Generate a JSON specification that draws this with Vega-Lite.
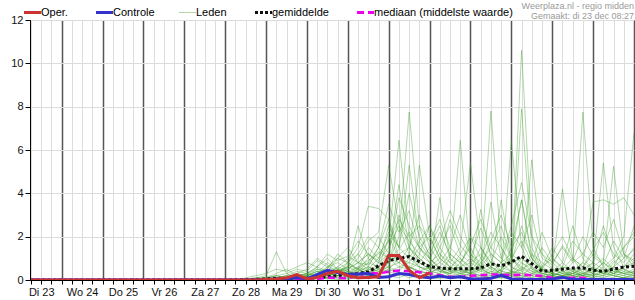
{
"$schema": "https://vega.github.io/schema/vega-lite/v6.json",
"width": 604, "height": 260, "autosize": "none",
"padding": {"left": 30, "top": 20, "right": 1, "bottom": 20},
"background": "white",
"title": {"text": ["Weerplaza.nl - regio midden", "Gemaakt: di 23 dec 08:27"], "anchor": "end", "frame": "group", "fontSize": 9, "fontWeight": "normal", "color": "#9a9a9a", "font": "Liberation Sans", "lineHeight": 10, "offset": 2, "dy": 16},
"config": {"font": "Liberation Sans", "view": {"stroke": "black", "strokeWidth": 1}, "axis": {"labelFont": "Liberation Sans", "labelFontSize": 11, "labelColor": "#111", "domainColor": "black", "tickColor": "black", "gridColor": "#dcdcdc"}, "legend": {"columnPadding": 22, "gridAlign": "none"}},
"datasets": {
"main": [
{"s":"Oper.","h":6,"v":0},{"s":"Oper.","h":138,"v":0},{"s":"Oper.","h":144,"v":0.02},{"s":"Oper.","h":150,"v":0.05},{"s":"Oper.","h":156,"v":0.1},{"s":"Oper.","h":162,"v":0.25},{"s":"Oper.","h":168,"v":0.05},{"s":"Oper.","h":174,"v":0.12},{"s":"Oper.","h":180,"v":0.3},{"s":"Oper.","h":186,"v":0.4},{"s":"Oper.","h":192,"v":0.2},{"s":"Oper.","h":198,"v":0.1},{"s":"Oper.","h":204,"v":0.12},{"s":"Oper.","h":210,"v":0.15},{"s":"Oper.","h":216,"v":1.13},{"s":"Oper.","h":222,"v":1.13},{"s":"Oper.","h":228,"v":0.45},{"s":"Oper.","h":234,"v":0.1},{"s":"Oper.","h":240,"v":0.33},
{"s":"Controle","h":6,"v":0},{"s":"Controle","h":138,"v":0},{"s":"Controle","h":144,"v":0.02},{"s":"Controle","h":150,"v":0.03},{"s":"Controle","h":156,"v":0.05},{"s":"Controle","h":162,"v":0.12},{"s":"Controle","h":168,"v":0.05},{"s":"Controle","h":174,"v":0.25},{"s":"Controle","h":180,"v":0.45},{"s":"Controle","h":186,"v":0.35},{"s":"Controle","h":192,"v":0.25},{"s":"Controle","h":198,"v":0.28},{"s":"Controle","h":204,"v":0.3},{"s":"Controle","h":210,"v":0.12},{"s":"Controle","h":216,"v":0.15},{"s":"Controle","h":222,"v":0.3},{"s":"Controle","h":228,"v":0.25},{"s":"Controle","h":234,"v":0.15},{"s":"Controle","h":240,"v":0.1},{"s":"Controle","h":246,"v":0.18},{"s":"Controle","h":252,"v":0.1},{"s":"Controle","h":258,"v":0.15},{"s":"Controle","h":264,"v":0.05},{"s":"Controle","h":270,"v":0.05},{"s":"Controle","h":276,"v":0.08},{"s":"Controle","h":282,"v":0.22},{"s":"Controle","h":288,"v":0.05},{"s":"Controle","h":294,"v":0.03},{"s":"Controle","h":300,"v":0.02},{"s":"Controle","h":306,"v":0.02},{"s":"Controle","h":312,"v":0.05},{"s":"Controle","h":318,"v":0.12},{"s":"Controle","h":324,"v":0.03},{"s":"Controle","h":330,"v":0.02},{"s":"Controle","h":360,"v":0.02},
{"s":"gemiddelde","h":6,"v":0},{"s":"gemiddelde","h":120,"v":0},{"s":"gemiddelde","h":126,"v":0.01},{"s":"gemiddelde","h":132,"v":0.02},{"s":"gemiddelde","h":138,"v":0.03},{"s":"gemiddelde","h":144,"v":0.05},{"s":"gemiddelde","h":150,"v":0.08},{"s":"gemiddelde","h":156,"v":0.06},{"s":"gemiddelde","h":162,"v":0.1},{"s":"gemiddelde","h":168,"v":0.08},{"s":"gemiddelde","h":174,"v":0.1},{"s":"gemiddelde","h":180,"v":0.15},{"s":"gemiddelde","h":186,"v":0.2},{"s":"gemiddelde","h":192,"v":0.25},{"s":"gemiddelde","h":198,"v":0.3},{"s":"gemiddelde","h":204,"v":0.38},{"s":"gemiddelde","h":210,"v":0.65},{"s":"gemiddelde","h":216,"v":0.9},{"s":"gemiddelde","h":222,"v":1.0},{"s":"gemiddelde","h":228,"v":1.08},{"s":"gemiddelde","h":234,"v":0.85},{"s":"gemiddelde","h":240,"v":0.62},{"s":"gemiddelde","h":246,"v":0.55},{"s":"gemiddelde","h":252,"v":0.52},{"s":"gemiddelde","h":258,"v":0.52},{"s":"gemiddelde","h":264,"v":0.52},{"s":"gemiddelde","h":270,"v":0.56},{"s":"gemiddelde","h":276,"v":0.75},{"s":"gemiddelde","h":282,"v":0.65},{"s":"gemiddelde","h":288,"v":0.82},{"s":"gemiddelde","h":294,"v":1.1},{"s":"gemiddelde","h":300,"v":0.75},{"s":"gemiddelde","h":306,"v":0.4},{"s":"gemiddelde","h":312,"v":0.45},{"s":"gemiddelde","h":318,"v":0.5},{"s":"gemiddelde","h":324,"v":0.55},{"s":"gemiddelde","h":330,"v":0.56},{"s":"gemiddelde","h":336,"v":0.45},{"s":"gemiddelde","h":342,"v":0.4},{"s":"gemiddelde","h":348,"v":0.5},{"s":"gemiddelde","h":354,"v":0.6},{"s":"gemiddelde","h":360,"v":0.63},
{"s":"mediaan (middelste waarde)","h":6,"v":0},{"s":"mediaan (middelste waarde)","h":168,"v":0},{"s":"mediaan (middelste waarde)","h":174,"v":0.05},{"s":"mediaan (middelste waarde)","h":180,"v":0.1},{"s":"mediaan (middelste waarde)","h":186,"v":0.1},{"s":"mediaan (middelste waarde)","h":192,"v":0.08},{"s":"mediaan (middelste waarde)","h":198,"v":0.2},{"s":"mediaan (middelste waarde)","h":204,"v":0.33},{"s":"mediaan (middelste waarde)","h":210,"v":0.3},{"s":"mediaan (middelste waarde)","h":216,"v":0.38},{"s":"mediaan (middelste waarde)","h":222,"v":0.44},{"s":"mediaan (middelste waarde)","h":228,"v":0.4},{"s":"mediaan (middelste waarde)","h":234,"v":0.36},{"s":"mediaan (middelste waarde)","h":240,"v":0.3},{"s":"mediaan (middelste waarde)","h":246,"v":0.22},{"s":"mediaan (middelste waarde)","h":252,"v":0.15},{"s":"mediaan (middelste waarde)","h":258,"v":0.15},{"s":"mediaan (middelste waarde)","h":264,"v":0.2},{"s":"mediaan (middelste waarde)","h":270,"v":0.22},{"s":"mediaan (middelste waarde)","h":276,"v":0.25},{"s":"mediaan (middelste waarde)","h":282,"v":0.25},{"s":"mediaan (middelste waarde)","h":288,"v":0.22},{"s":"mediaan (middelste waarde)","h":294,"v":0.25},{"s":"mediaan (middelste waarde)","h":300,"v":0.22},{"s":"mediaan (middelste waarde)","h":306,"v":0.18},{"s":"mediaan (middelste waarde)","h":312,"v":0.1},{"s":"mediaan (middelste waarde)","h":318,"v":0.1},{"s":"mediaan (middelste waarde)","h":324,"v":0.1},{"s":"mediaan (middelste waarde)","h":330,"v":0.1},{"s":"mediaan (middelste waarde)","h":336,"v":0.02},{"s":"mediaan (middelste waarde)","h":342,"v":0},{"s":"mediaan (middelste waarde)","h":360,"v":0}
],
"mem": [
{"m":1,"h":6,"v":0},{"m":1,"h":132,"v":0},{"m":1,"h":138,"v":0.1},{"m":1,"h":144,"v":0.2},{"m":1,"h":150,"v":1.3},{"m":1,"h":156,"v":0.3},{"m":1,"h":162,"v":0.1},{"m":1,"h":168,"v":0.2},{"m":1,"h":174,"v":0.4},{"m":1,"h":180,"v":0.3},{"m":1,"h":186,"v":0.5},{"m":1,"h":192,"v":0.8},{"m":1,"h":198,"v":1.2},{"m":1,"h":204,"v":0.6},{"m":1,"h":210,"v":0.4},{"m":1,"h":216,"v":0.8},{"m":1,"h":222,"v":2},{"m":1,"h":228,"v":7.75},{"m":1,"h":234,"v":2.5},{"m":1,"h":240,"v":1},{"m":1,"h":246,"v":0.5},{"m":1,"h":252,"v":0.3},{"m":1,"h":258,"v":0.8},{"m":1,"h":264,"v":1.5},{"m":1,"h":270,"v":0.6},{"m":1,"h":276,"v":0.2},{"m":1,"h":282,"v":0.1},{"m":1,"h":288,"v":0.3},{"m":1,"h":294,"v":0.8},{"m":1,"h":300,"v":0.4},{"m":1,"h":306,"v":0.2},{"m":1,"h":312,"v":0.1},{"m":1,"h":318,"v":0.5},{"m":1,"h":324,"v":1},{"m":1,"h":330,"v":0.6},{"m":1,"h":336,"v":0.3},{"m":1,"h":342,"v":0.2},{"m":1,"h":348,"v":0.8},{"m":1,"h":354,"v":1.2},{"m":1,"h":360,"v":0.9},
{"m":2,"h":6,"v":0},{"m":2,"h":126,"v":0},{"m":2,"h":132,"v":0.05},{"m":2,"h":138,"v":0.1},{"m":2,"h":144,"v":0.1},{"m":2,"h":150,"v":0.2},{"m":2,"h":156,"v":0.3},{"m":2,"h":162,"v":0.5},{"m":2,"h":168,"v":0.4},{"m":2,"h":174,"v":0.9},{"m":2,"h":180,"v":0.6},{"m":2,"h":186,"v":1},{"m":2,"h":192,"v":0.8},{"m":2,"h":198,"v":1.5},{"m":2,"h":204,"v":3.4},{"m":2,"h":210,"v":3.3},{"m":2,"h":216,"v":2.8},{"m":2,"h":222,"v":1},{"m":2,"h":228,"v":0.6},{"m":2,"h":234,"v":0.4},{"m":2,"h":240,"v":0.3},{"m":2,"h":246,"v":0.6},{"m":2,"h":252,"v":1.2},{"m":2,"h":258,"v":0.8},{"m":2,"h":264,"v":0.4},{"m":2,"h":270,"v":0.2},{"m":2,"h":276,"v":0.1},{"m":2,"h":282,"v":0.5},{"m":2,"h":288,"v":1.1},{"m":2,"h":294,"v":3.7},{"m":2,"h":300,"v":1.2},{"m":2,"h":306,"v":0.5},{"m":2,"h":312,"v":0.3},{"m":2,"h":318,"v":0.2},{"m":2,"h":324,"v":0.1},{"m":2,"h":330,"v":0.3},{"m":2,"h":336,"v":0.6},{"m":2,"h":342,"v":0.4},{"m":2,"h":348,"v":0.2},{"m":2,"h":354,"v":0.1},{"m":2,"h":360,"v":0.3},
{"m":3,"h":6,"v":0},{"m":3,"h":138,"v":0},{"m":3,"h":144,"v":0.05},{"m":3,"h":150,"v":0.1},{"m":3,"h":156,"v":0.2},{"m":3,"h":162,"v":0.1},{"m":3,"h":168,"v":0.3},{"m":3,"h":174,"v":0.2},{"m":3,"h":180,"v":0.6},{"m":3,"h":186,"v":0.8},{"m":3,"h":192,"v":0.5},{"m":3,"h":198,"v":1},{"m":3,"h":204,"v":1.8},{"m":3,"h":210,"v":2.2},{"m":3,"h":216,"v":5.3},{"m":3,"h":222,"v":2.5},{"m":3,"h":228,"v":1.2},{"m":3,"h":234,"v":0.6},{"m":3,"h":240,"v":0.4},{"m":3,"h":246,"v":0.3},{"m":3,"h":252,"v":1},{"m":3,"h":258,"v":6.45},{"m":3,"h":264,"v":1},{"m":3,"h":270,"v":0.5},{"m":3,"h":276,"v":0.3},{"m":3,"h":282,"v":0.2},{"m":3,"h":288,"v":0.4},{"m":3,"h":294,"v":1},{"m":3,"h":300,"v":0.6},{"m":3,"h":306,"v":0.2},{"m":3,"h":312,"v":0.1},{"m":3,"h":318,"v":0.1},{"m":3,"h":324,"v":0.4},{"m":3,"h":330,"v":0.8},{"m":3,"h":336,"v":0.5},{"m":3,"h":342,"v":0.3},{"m":3,"h":348,"v":0.6},{"m":3,"h":354,"v":1},{"m":3,"h":360,"v":2.5},
{"m":4,"h":6,"v":0},{"m":4,"h":132,"v":0},{"m":4,"h":138,"v":0.05},{"m":4,"h":144,"v":0.1},{"m":4,"h":150,"v":0.3},{"m":4,"h":156,"v":0.5},{"m":4,"h":162,"v":0.2},{"m":4,"h":168,"v":0.1},{"m":4,"h":174,"v":0.3},{"m":4,"h":180,"v":0.8},{"m":4,"h":186,"v":0.5},{"m":4,"h":192,"v":0.4},{"m":4,"h":198,"v":0.6},{"m":4,"h":204,"v":0.9},{"m":4,"h":210,"v":1.2},{"m":4,"h":216,"v":1.8},{"m":4,"h":222,"v":6.45},{"m":4,"h":228,"v":2},{"m":4,"h":234,"v":0.8},{"m":4,"h":240,"v":0.5},{"m":4,"h":246,"v":3.8},{"m":4,"h":252,"v":1},{"m":4,"h":258,"v":0.5},{"m":4,"h":264,"v":0.3},{"m":4,"h":270,"v":0.6},{"m":4,"h":276,"v":1.2},{"m":4,"h":282,"v":0.8},{"m":4,"h":288,"v":0.4},{"m":4,"h":294,"v":0.3},{"m":4,"h":300,"v":0.2},{"m":4,"h":306,"v":0.6},{"m":4,"h":312,"v":1},{"m":4,"h":318,"v":0.5},{"m":4,"h":324,"v":0.3},{"m":4,"h":330,"v":0.2},{"m":4,"h":336,"v":0.1},{"m":4,"h":342,"v":0.4},{"m":4,"h":348,"v":0.9},{"m":4,"h":354,"v":0.5},{"m":4,"h":360,"v":0.3},
{"m":5,"h":6,"v":0},{"m":5,"h":144,"v":0},{"m":5,"h":150,"v":0.1},{"m":5,"h":156,"v":0.1},{"m":5,"h":162,"v":0.3},{"m":5,"h":168,"v":0.5},{"m":5,"h":174,"v":1},{"m":5,"h":180,"v":0.7},{"m":5,"h":186,"v":0.4},{"m":5,"h":192,"v":0.6},{"m":5,"h":198,"v":2.5},{"m":5,"h":204,"v":1},{"m":5,"h":210,"v":0.5},{"m":5,"h":216,"v":0.8},{"m":5,"h":222,"v":1.2},{"m":5,"h":228,"v":1.5},{"m":5,"h":234,"v":3},{"m":5,"h":240,"v":1.5},{"m":5,"h":246,"v":0.8},{"m":5,"h":252,"v":0.5},{"m":5,"h":258,"v":0.3},{"m":5,"h":264,"v":0.2},{"m":5,"h":270,"v":0.5},{"m":5,"h":276,"v":7.8},{"m":5,"h":282,"v":1.5},{"m":5,"h":288,"v":0.6},{"m":5,"h":294,"v":0.3},{"m":5,"h":300,"v":0.2},{"m":5,"h":306,"v":0.1},{"m":5,"h":312,"v":0.3},{"m":5,"h":318,"v":0.6},{"m":5,"h":324,"v":0.5},{"m":5,"h":330,"v":0.2},{"m":5,"h":336,"v":0.4},{"m":5,"h":342,"v":0.8},{"m":5,"h":348,"v":0.5},{"m":5,"h":354,"v":0.3},{"m":5,"h":360,"v":0.5},
{"m":6,"h":6,"v":0},{"m":6,"h":138,"v":0},{"m":6,"h":144,"v":0.05},{"m":6,"h":150,"v":0.2},{"m":6,"h":156,"v":0.1},{"m":6,"h":162,"v":0.05},{"m":6,"h":168,"v":0.2},{"m":6,"h":174,"v":0.5},{"m":6,"h":180,"v":0.4},{"m":6,"h":186,"v":0.3},{"m":6,"h":192,"v":0.7},{"m":6,"h":198,"v":0.5},{"m":6,"h":204,"v":1.5},{"m":6,"h":210,"v":1},{"m":6,"h":216,"v":2.2},{"m":6,"h":222,"v":1.5},{"m":6,"h":228,"v":1},{"m":6,"h":234,"v":1.8},{"m":6,"h":240,"v":2.5},{"m":6,"h":246,"v":1.2},{"m":6,"h":252,"v":0.8},{"m":6,"h":258,"v":1.5},{"m":6,"h":264,"v":5.4},{"m":6,"h":270,"v":1.5},{"m":6,"h":276,"v":0.6},{"m":6,"h":282,"v":0.3},{"m":6,"h":288,"v":6.4},{"m":6,"h":294,"v":1.5},{"m":6,"h":300,"v":0.5},{"m":6,"h":306,"v":0.3},{"m":6,"h":312,"v":0.2},{"m":6,"h":318,"v":0.1},{"m":6,"h":324,"v":0.3},{"m":6,"h":330,"v":0.5},{"m":6,"h":336,"v":0.3},{"m":6,"h":342,"v":0.2},{"m":6,"h":348,"v":0.1},{"m":6,"h":354,"v":0.4},{"m":6,"h":360,"v":0.8},
{"m":7,"h":6,"v":0},{"m":7,"h":126,"v":0},{"m":7,"h":132,"v":0.1},{"m":7,"h":138,"v":0.2},{"m":7,"h":144,"v":0.3},{"m":7,"h":150,"v":0.5},{"m":7,"h":156,"v":0.4},{"m":7,"h":162,"v":0.6},{"m":7,"h":168,"v":0.8},{"m":7,"h":174,"v":0.6},{"m":7,"h":180,"v":1.2},{"m":7,"h":186,"v":0.9},{"m":7,"h":192,"v":1.1},{"m":7,"h":198,"v":0.8},{"m":7,"h":204,"v":0.7},{"m":7,"h":210,"v":1.3},{"m":7,"h":216,"v":1},{"m":7,"h":222,"v":1.4},{"m":7,"h":228,"v":2.2},{"m":7,"h":234,"v":1.5},{"m":7,"h":240,"v":0.8},{"m":7,"h":246,"v":0.4},{"m":7,"h":252,"v":0.6},{"m":7,"h":258,"v":1},{"m":7,"h":264,"v":0.5},{"m":7,"h":270,"v":3.25},{"m":7,"h":276,"v":1},{"m":7,"h":282,"v":0.4},{"m":7,"h":288,"v":0.3},{"m":7,"h":294,"v":10.6},{"m":7,"h":300,"v":2},{"m":7,"h":306,"v":0.6},{"m":7,"h":312,"v":0.3},{"m":7,"h":318,"v":0.2},{"m":7,"h":324,"v":0.1},{"m":7,"h":330,"v":0.2},{"m":7,"h":336,"v":0.5},{"m":7,"h":342,"v":0.3},{"m":7,"h":348,"v":0.2},{"m":7,"h":354,"v":0.1},{"m":7,"h":360,"v":0.2},
{"m":8,"h":6,"v":0},{"m":8,"h":144,"v":0},{"m":8,"h":150,"v":0.05},{"m":8,"h":156,"v":0.1},{"m":8,"h":162,"v":0.2},{"m":8,"h":168,"v":0.1},{"m":8,"h":174,"v":0.2},{"m":8,"h":180,"v":0.3},{"m":8,"h":186,"v":0.2},{"m":8,"h":192,"v":0.3},{"m":8,"h":198,"v":0.5},{"m":8,"h":204,"v":0.8},{"m":8,"h":210,"v":0.6},{"m":8,"h":216,"v":1.2},{"m":8,"h":222,"v":4.4},{"m":8,"h":228,"v":1.5},{"m":8,"h":234,"v":1},{"m":8,"h":240,"v":0.6},{"m":8,"h":246,"v":1.5},{"m":8,"h":252,"v":2.5},{"m":8,"h":258,"v":1.2},{"m":8,"h":264,"v":0.8},{"m":8,"h":270,"v":0.5},{"m":8,"h":276,"v":3.6},{"m":8,"h":282,"v":1},{"m":8,"h":288,"v":0.6},{"m":8,"h":294,"v":0.4},{"m":8,"h":300,"v":5.55},{"m":8,"h":306,"v":1.2},{"m":8,"h":312,"v":0.5},{"m":8,"h":318,"v":0.3},{"m":8,"h":324,"v":0.2},{"m":8,"h":330,"v":0.4},{"m":8,"h":336,"v":0.8},{"m":8,"h":342,"v":0.5},{"m":8,"h":348,"v":0.3},{"m":8,"h":354,"v":0.2},{"m":8,"h":360,"v":0.1},
{"m":9,"h":6,"v":0},{"m":9,"h":150,"v":0},{"m":9,"h":156,"v":0.1},{"m":9,"h":162,"v":0.2},{"m":9,"h":168,"v":0.3},{"m":9,"h":174,"v":0.1},{"m":9,"h":180,"v":0.2},{"m":9,"h":186,"v":0.5},{"m":9,"h":192,"v":0.3},{"m":9,"h":198,"v":0.4},{"m":9,"h":204,"v":0.6},{"m":9,"h":210,"v":1.5},{"m":9,"h":216,"v":2.8},{"m":9,"h":222,"v":1.5},{"m":9,"h":228,"v":5.3},{"m":9,"h":234,"v":1.8},{"m":9,"h":240,"v":1},{"m":9,"h":246,"v":0.5},{"m":9,"h":252,"v":0.2},{"m":9,"h":258,"v":0.1},{"m":9,"h":264,"v":0.3},{"m":9,"h":270,"v":0.8},{"m":9,"h":276,"v":0.5},{"m":9,"h":282,"v":3.7},{"m":9,"h":288,"v":1},{"m":9,"h":294,"v":0.4},{"m":9,"h":300,"v":0.2},{"m":9,"h":306,"v":0.1},{"m":9,"h":312,"v":0.6},{"m":9,"h":318,"v":4.2},{"m":9,"h":324,"v":1},{"m":9,"h":330,"v":0.3},{"m":9,"h":336,"v":0.2},{"m":9,"h":342,"v":0.5},{"m":9,"h":348,"v":0.3},{"m":9,"h":354,"v":0.6},{"m":9,"h":360,"v":1.2},
{"m":10,"h":6,"v":0},{"m":10,"h":138,"v":0},{"m":10,"h":144,"v":0.05},{"m":10,"h":150,"v":0.1},{"m":10,"h":156,"v":0.05},{"m":10,"h":162,"v":0.1},{"m":10,"h":168,"v":0.2},{"m":10,"h":174,"v":0.4},{"m":10,"h":180,"v":0.2},{"m":10,"h":186,"v":0.1},{"m":10,"h":192,"v":0.2},{"m":10,"h":198,"v":0.3},{"m":10,"h":204,"v":0.5},{"m":10,"h":210,"v":0.4},{"m":10,"h":216,"v":0.6},{"m":10,"h":222,"v":0.8},{"m":10,"h":228,"v":1.2},{"m":10,"h":234,"v":5.3},{"m":10,"h":240,"v":2},{"m":10,"h":246,"v":1},{"m":10,"h":252,"v":0.6},{"m":10,"h":258,"v":0.4},{"m":10,"h":264,"v":0.3},{"m":10,"h":270,"v":0.2},{"m":10,"h":276,"v":0.6},{"m":10,"h":282,"v":0.4},{"m":10,"h":288,"v":0.3},{"m":10,"h":294,"v":7.9},{"m":10,"h":300,"v":1.5},{"m":10,"h":306,"v":0.5},{"m":10,"h":312,"v":0.3},{"m":10,"h":318,"v":0.2},{"m":10,"h":324,"v":0.4},{"m":10,"h":330,"v":0.8},{"m":10,"h":336,"v":3.6},{"m":10,"h":342,"v":3.7},{"m":10,"h":348,"v":3.5},{"m":10,"h":354,"v":3.8},{"m":10,"h":360,"v":3},
{"m":11,"h":6,"v":0},{"m":11,"h":144,"v":0},{"m":11,"h":150,"v":0.05},{"m":11,"h":156,"v":0.1},{"m":11,"h":162,"v":0.1},{"m":11,"h":168,"v":0.1},{"m":11,"h":174,"v":0.2},{"m":11,"h":180,"v":0.5},{"m":11,"h":186,"v":1.2},{"m":11,"h":192,"v":0.8},{"m":11,"h":198,"v":0.5},{"m":11,"h":204,"v":0.3},{"m":11,"h":210,"v":0.6},{"m":11,"h":216,"v":1},{"m":11,"h":222,"v":0.8},{"m":11,"h":228,"v":0.5},{"m":11,"h":234,"v":1.2},{"m":11,"h":240,"v":2.5},{"m":11,"h":246,"v":1.5},{"m":11,"h":252,"v":0.8},{"m":11,"h":258,"v":0.5},{"m":11,"h":264,"v":0.4},{"m":11,"h":270,"v":1},{"m":11,"h":276,"v":2.2},{"m":11,"h":282,"v":1.5},{"m":11,"h":288,"v":0.8},{"m":11,"h":294,"v":2.5},{"m":11,"h":300,"v":1},{"m":11,"h":306,"v":0.5},{"m":11,"h":312,"v":0.2},{"m":11,"h":318,"v":0.3},{"m":11,"h":324,"v":0.8},{"m":11,"h":330,"v":7.75},{"m":11,"h":336,"v":1.5},{"m":11,"h":342,"v":0.6},{"m":11,"h":348,"v":0.3},{"m":11,"h":354,"v":0.2},{"m":11,"h":360,"v":0.4},
{"m":12,"h":6,"v":0},{"m":12,"h":138,"v":0},{"m":12,"h":144,"v":0.1},{"m":12,"h":150,"v":0.2},{"m":12,"h":156,"v":0.1},{"m":12,"h":162,"v":0.05},{"m":12,"h":168,"v":0.1},{"m":12,"h":174,"v":0.3},{"m":12,"h":180,"v":0.6},{"m":12,"h":186,"v":0.4},{"m":12,"h":192,"v":0.5},{"m":12,"h":198,"v":0.8},{"m":12,"h":204,"v":1.2},{"m":12,"h":210,"v":0.9},{"m":12,"h":216,"v":1.5},{"m":12,"h":222,"v":2.5},{"m":12,"h":228,"v":1.8},{"m":12,"h":234,"v":1.2},{"m":12,"h":240,"v":0.8},{"m":12,"h":246,"v":1.2},{"m":12,"h":252,"v":0.6},{"m":12,"h":258,"v":0.3},{"m":12,"h":264,"v":0.5},{"m":12,"h":270,"v":0.3},{"m":12,"h":276,"v":0.2},{"m":12,"h":282,"v":0.5},{"m":12,"h":288,"v":1},{"m":12,"h":294,"v":0.6},{"m":12,"h":300,"v":0.4},{"m":12,"h":306,"v":0.3},{"m":12,"h":312,"v":0.2},{"m":12,"h":318,"v":0.1},{"m":12,"h":324,"v":0.3},{"m":12,"h":330,"v":0.5},{"m":12,"h":336,"v":0.8},{"m":12,"h":342,"v":5.4},{"m":12,"h":348,"v":1.5},{"m":12,"h":354,"v":0.6},{"m":12,"h":360,"v":0.8},
{"m":13,"h":6,"v":0},{"m":13,"h":150,"v":0},{"m":13,"h":156,"v":0.05},{"m":13,"h":162,"v":0.1},{"m":13,"h":168,"v":0.2},{"m":13,"h":174,"v":0.3},{"m":13,"h":180,"v":0.2},{"m":13,"h":186,"v":0.4},{"m":13,"h":192,"v":0.6},{"m":13,"h":198,"v":0.4},{"m":13,"h":204,"v":0.8},{"m":13,"h":210,"v":1.5},{"m":13,"h":216,"v":1},{"m":13,"h":222,"v":0.6},{"m":13,"h":228,"v":0.5},{"m":13,"h":234,"v":0.8},{"m":13,"h":240,"v":1.5},{"m":13,"h":246,"v":2.5},{"m":13,"h":252,"v":1},{"m":13,"h":258,"v":0.6},{"m":13,"h":264,"v":2},{"m":13,"h":270,"v":1.5},{"m":13,"h":276,"v":0.8},{"m":13,"h":282,"v":0.6},{"m":13,"h":288,"v":0.4},{"m":13,"h":294,"v":0.3},{"m":13,"h":300,"v":1.2},{"m":13,"h":306,"v":0.8},{"m":13,"h":312,"v":0.5},{"m":13,"h":318,"v":0.3},{"m":13,"h":324,"v":0.2},{"m":13,"h":330,"v":0.1},{"m":13,"h":336,"v":0.3},{"m":13,"h":342,"v":0.8},{"m":13,"h":348,"v":5.25},{"m":13,"h":354,"v":1.2},{"m":13,"h":360,"v":0.6},
{"m":14,"h":6,"v":0},{"m":14,"h":138,"v":0},{"m":14,"h":144,"v":0.05},{"m":14,"h":150,"v":0.1},{"m":14,"h":156,"v":0.2},{"m":14,"h":162,"v":0.4},{"m":14,"h":168,"v":0.3},{"m":14,"h":174,"v":0.6},{"m":14,"h":180,"v":1},{"m":14,"h":186,"v":0.5},{"m":14,"h":192,"v":0.3},{"m":14,"h":198,"v":0.6},{"m":14,"h":204,"v":0.4},{"m":14,"h":210,"v":0.2},{"m":14,"h":216,"v":0.5},{"m":14,"h":222,"v":1},{"m":14,"h":228,"v":0.8},{"m":14,"h":234,"v":0.6},{"m":14,"h":240,"v":0.4},{"m":14,"h":246,"v":0.3},{"m":14,"h":252,"v":0.5},{"m":14,"h":258,"v":1.2},{"m":14,"h":264,"v":2},{"m":14,"h":270,"v":1},{"m":14,"h":276,"v":0.5},{"m":14,"h":282,"v":0.3},{"m":14,"h":288,"v":1.5},{"m":14,"h":294,"v":3.7},{"m":14,"h":300,"v":1},{"m":14,"h":306,"v":0.4},{"m":14,"h":312,"v":0.3},{"m":14,"h":318,"v":0.6},{"m":14,"h":324,"v":0.4},{"m":14,"h":330,"v":0.2},{"m":14,"h":336,"v":0.3},{"m":14,"h":342,"v":0.6},{"m":14,"h":348,"v":1},{"m":14,"h":354,"v":2},{"m":14,"h":360,"v":6.8},
{"m":15,"h":6,"v":0},{"m":15,"h":144,"v":0},{"m":15,"h":150,"v":0.1},{"m":15,"h":156,"v":0.2},{"m":15,"h":162,"v":0.1},{"m":15,"h":168,"v":0.05},{"m":15,"h":174,"v":0.1},{"m":15,"h":180,"v":0.2},{"m":15,"h":186,"v":0.3},{"m":15,"h":192,"v":0.2},{"m":15,"h":198,"v":0.5},{"m":15,"h":204,"v":0.3},{"m":15,"h":210,"v":0.8},{"m":15,"h":216,"v":0.6},{"m":15,"h":222,"v":0.4},{"m":15,"h":228,"v":1},{"m":15,"h":234,"v":0.6},{"m":15,"h":240,"v":0.5},{"m":15,"h":246,"v":0.8},{"m":15,"h":252,"v":1.5},{"m":15,"h":258,"v":1},{"m":15,"h":264,"v":0.6},{"m":15,"h":270,"v":0.4},{"m":15,"h":276,"v":0.3},{"m":15,"h":282,"v":0.8},{"m":15,"h":288,"v":1.2},{"m":15,"h":294,"v":0.8},{"m":15,"h":300,"v":0.5},{"m":15,"h":306,"v":0.3},{"m":15,"h":312,"v":0.4},{"m":15,"h":318,"v":0.8},{"m":15,"h":324,"v":2.5},{"m":15,"h":330,"v":1},{"m":15,"h":336,"v":0.5},{"m":15,"h":342,"v":0.3},{"m":15,"h":348,"v":0.6},{"m":15,"h":354,"v":1.5},{"m":15,"h":360,"v":2},
{"m":16,"h":6,"v":0},{"m":16,"h":156,"v":0},{"m":16,"h":162,"v":0.05},{"m":16,"h":168,"v":0.1},{"m":16,"h":174,"v":0.2},{"m":16,"h":180,"v":0.1},{"m":16,"h":186,"v":0.2},{"m":16,"h":192,"v":0.4},{"m":16,"h":198,"v":0.2},{"m":16,"h":204,"v":0.5},{"m":16,"h":210,"v":0.3},{"m":16,"h":216,"v":0.8},{"m":16,"h":222,"v":1.2},{"m":16,"h":228,"v":0.6},{"m":16,"h":234,"v":0.4},{"m":16,"h":240,"v":0.3},{"m":16,"h":246,"v":0.6},{"m":16,"h":252,"v":0.4},{"m":16,"h":258,"v":0.2},{"m":16,"h":264,"v":0.5},{"m":16,"h":270,"v":1.5},{"m":16,"h":276,"v":0.8},{"m":16,"h":282,"v":0.4},{"m":16,"h":288,"v":0.8},{"m":16,"h":294,"v":1},{"m":16,"h":300,"v":0.6},{"m":16,"h":306,"v":0.3},{"m":16,"h":312,"v":0.2},{"m":16,"h":318,"v":0.4},{"m":16,"h":324,"v":0.3},{"m":16,"h":330,"v":0.2},{"m":16,"h":336,"v":0.6},{"m":16,"h":342,"v":1},{"m":16,"h":348,"v":0.5},{"m":16,"h":354,"v":0.3},{"m":16,"h":360,"v":0.4},
{"m":17,"h":6,"v":0},{"m":17,"h":144,"v":0},{"m":17,"h":150,"v":0.05},{"m":17,"h":156,"v":0.1},{"m":17,"h":162,"v":0.2},{"m":17,"h":168,"v":0.3},{"m":17,"h":174,"v":0.5},{"m":17,"h":180,"v":0.3},{"m":17,"h":186,"v":0.2},{"m":17,"h":192,"v":0.4},{"m":17,"h":198,"v":0.3},{"m":17,"h":204,"v":0.2},{"m":17,"h":210,"v":0.4},{"m":17,"h":216,"v":0.6},{"m":17,"h":222,"v":3},{"m":17,"h":228,"v":1.5},{"m":17,"h":234,"v":0.8},{"m":17,"h":240,"v":0.5},{"m":17,"h":246,"v":0.4},{"m":17,"h":252,"v":0.3},{"m":17,"h":258,"v":0.6},{"m":17,"h":264,"v":1},{"m":17,"h":270,"v":0.6},{"m":17,"h":276,"v":0.4},{"m":17,"h":282,"v":0.2},{"m":17,"h":288,"v":0.3},{"m":17,"h":294,"v":0.5},{"m":17,"h":300,"v":0.8},{"m":17,"h":306,"v":0.5},{"m":17,"h":312,"v":0.3},{"m":17,"h":318,"v":0.2},{"m":17,"h":324,"v":0.5},{"m":17,"h":330,"v":0.3},{"m":17,"h":336,"v":0.2},{"m":17,"h":342,"v":0.4},{"m":17,"h":348,"v":0.3},{"m":17,"h":354,"v":0.5},{"m":17,"h":360,"v":0.3},
{"m":18,"h":6,"v":0},{"m":18,"h":150,"v":0},{"m":18,"h":156,"v":0.05},{"m":18,"h":162,"v":0.05},{"m":18,"h":168,"v":0.1},{"m":18,"h":174,"v":0.15},{"m":18,"h":180,"v":0.3},{"m":18,"h":186,"v":0.2},{"m":18,"h":192,"v":0.2},{"m":18,"h":198,"v":0.4},{"m":18,"h":204,"v":0.6},{"m":18,"h":210,"v":0.5},{"m":18,"h":216,"v":0.4},{"m":18,"h":222,"v":0.6},{"m":18,"h":228,"v":0.8},{"m":18,"h":234,"v":1.5},{"m":18,"h":240,"v":1},{"m":18,"h":246,"v":0.6},{"m":18,"h":252,"v":0.4},{"m":18,"h":258,"v":0.3},{"m":18,"h":264,"v":0.6},{"m":18,"h":270,"v":0.4},{"m":18,"h":276,"v":0.8},{"m":18,"h":282,"v":2},{"m":18,"h":288,"v":1},{"m":18,"h":294,"v":0.5},{"m":18,"h":300,"v":0.3},{"m":18,"h":306,"v":0.2},{"m":18,"h":312,"v":0.1},{"m":18,"h":318,"v":0.2},{"m":18,"h":324,"v":0.3},{"m":18,"h":330,"v":0.6},{"m":18,"h":336,"v":1.2},{"m":18,"h":342,"v":0.8},{"m":18,"h":348,"v":0.4},{"m":18,"h":354,"v":0.3},{"m":18,"h":360,"v":0.2},
{"m":19,"h":6,"v":0},{"m":19,"h":144,"v":0},{"m":19,"h":150,"v":0.05},{"m":19,"h":156,"v":0},{"m":19,"h":162,"v":0.1},{"m":19,"h":168,"v":0.2},{"m":19,"h":174,"v":0.1},{"m":19,"h":180,"v":0.3},{"m":19,"h":186,"v":0.6},{"m":19,"h":192,"v":0.4},{"m":19,"h":198,"v":0.2},{"m":19,"h":204,"v":0.3},{"m":19,"h":210,"v":0.5},{"m":19,"h":216,"v":2},{"m":19,"h":222,"v":1},{"m":19,"h":228,"v":0.6},{"m":19,"h":234,"v":0.4},{"m":19,"h":240,"v":0.3},{"m":19,"h":246,"v":0.2},{"m":19,"h":252,"v":0.4},{"m":19,"h":258,"v":0.6},{"m":19,"h":264,"v":0.8},{"m":19,"h":270,"v":1.2},{"m":19,"h":276,"v":0.6},{"m":19,"h":282,"v":0.3},{"m":19,"h":288,"v":0.2},{"m":19,"h":294,"v":0.1},{"m":19,"h":300,"v":0.3},{"m":19,"h":306,"v":0.6},{"m":19,"h":312,"v":1.5},{"m":19,"h":318,"v":0.8},{"m":19,"h":324,"v":0.4},{"m":19,"h":330,"v":0.2},{"m":19,"h":336,"v":0.1},{"m":19,"h":342,"v":0.2},{"m":19,"h":348,"v":0.4},{"m":19,"h":354,"v":0.3},{"m":19,"h":360,"v":0.2},
{"m":20,"h":6,"v":0},{"m":20,"h":150,"v":0},{"m":20,"h":156,"v":0.1},{"m":20,"h":162,"v":0.2},{"m":20,"h":168,"v":0.1},{"m":20,"h":174,"v":0.05},{"m":20,"h":180,"v":0.1},{"m":20,"h":186,"v":0.2},{"m":20,"h":192,"v":0.3},{"m":20,"h":198,"v":0.2},{"m":20,"h":204,"v":0.4},{"m":20,"h":210,"v":0.3},{"m":20,"h":216,"v":0.5},{"m":20,"h":222,"v":0.3},{"m":20,"h":228,"v":0.2},{"m":20,"h":234,"v":0.4},{"m":20,"h":240,"v":0.6},{"m":20,"h":246,"v":0.4},{"m":20,"h":252,"v":0.3},{"m":20,"h":258,"v":0.2},{"m":20,"h":264,"v":0.1},{"m":20,"h":270,"v":0.2},{"m":20,"h":276,"v":0.4},{"m":20,"h":282,"v":0.3},{"m":20,"h":288,"v":0.2},{"m":20,"h":294,"v":0.6},{"m":20,"h":300,"v":0.3},{"m":20,"h":306,"v":0.1},{"m":20,"h":312,"v":0.2},{"m":20,"h":318,"v":0.4},{"m":20,"h":324,"v":0.2},{"m":20,"h":330,"v":0.1},{"m":20,"h":336,"v":0.2},{"m":20,"h":342,"v":0.1},{"m":20,"h":348,"v":0.3},{"m":20,"h":354,"v":0.6},{"m":20,"h":360,"v":1},
{"m":21,"h":6,"v":0},{"m":21,"h":162,"v":0},{"m":21,"h":168,"v":0.05},{"m":21,"h":174,"v":0.1},{"m":21,"h":180,"v":0.2},{"m":21,"h":186,"v":0.1},{"m":21,"h":192,"v":0.1},{"m":21,"h":198,"v":0.2},{"m":21,"h":204,"v":0.1},{"m":21,"h":210,"v":0.3},{"m":21,"h":216,"v":0.4},{"m":21,"h":222,"v":0.2},{"m":21,"h":228,"v":0.6},{"m":21,"h":234,"v":0.3},{"m":21,"h":240,"v":0.2},{"m":21,"h":246,"v":0.1},{"m":21,"h":252,"v":0.3},{"m":21,"h":258,"v":0.5},{"m":21,"h":264,"v":0.3},{"m":21,"h":270,"v":0.2},{"m":21,"h":276,"v":0.1},{"m":21,"h":282,"v":0.2},{"m":21,"h":288,"v":0.4},{"m":21,"h":294,"v":0.2},{"m":21,"h":300,"v":0.1},{"m":21,"h":306,"v":0.05},{"m":21,"h":312,"v":0.1},{"m":21,"h":318,"v":0.2},{"m":21,"h":324,"v":0.1},{"m":21,"h":330,"v":0.3},{"m":21,"h":336,"v":0.5},{"m":21,"h":342,"v":0.3},{"m":21,"h":348,"v":0.2},{"m":21,"h":354,"v":0.1},{"m":21,"h":360,"v":0.1},
{"m":22,"h":6,"v":0},{"m":22,"h":150,"v":0},{"m":22,"h":156,"v":0.02},{"m":22,"h":162,"v":0.05},{"m":22,"h":168,"v":0},{"m":22,"h":174,"v":0.05},{"m":22,"h":180,"v":0.1},{"m":22,"h":186,"v":0.05},{"m":22,"h":192,"v":0.1},{"m":22,"h":198,"v":0.05},{"m":22,"h":204,"v":0.2},{"m":22,"h":210,"v":0.1},{"m":22,"h":216,"v":0.2},{"m":22,"h":222,"v":0.3},{"m":22,"h":228,"v":0.1},{"m":22,"h":234,"v":0.2},{"m":22,"h":240,"v":0.1},{"m":22,"h":246,"v":0.05},{"m":22,"h":252,"v":0.2},{"m":22,"h":258,"v":0.1},{"m":22,"h":264,"v":0.05},{"m":22,"h":270,"v":0.1},{"m":22,"h":276,"v":0.2},{"m":22,"h":282,"v":0.1},{"m":22,"h":288,"v":0.05},{"m":22,"h":294,"v":0.2},{"m":22,"h":300,"v":0.1},{"m":22,"h":306,"v":0.05},{"m":22,"h":312,"v":0},{"m":22,"h":318,"v":0.05},{"m":22,"h":324,"v":0.1},{"m":22,"h":330,"v":0.05},{"m":22,"h":336,"v":0},{"m":22,"h":342,"v":0},{"m":22,"h":348,"v":0.05},{"m":22,"h":354,"v":0.1},{"m":22,"h":360,"v":0},
{"m":23,"h":6,"v":0},{"m":23,"h":156,"v":0},{"m":23,"h":162,"v":0.1},{"m":23,"h":168,"v":0.2},{"m":23,"h":174,"v":0.1},{"m":23,"h":180,"v":0.3},{"m":23,"h":186,"v":0.2},{"m":23,"h":192,"v":0.5},{"m":23,"h":198,"v":0.8},{"m":23,"h":204,"v":0.5},{"m":23,"h":210,"v":1},{"m":23,"h":216,"v":1.8},{"m":23,"h":222,"v":2.8},{"m":23,"h":228,"v":2},{"m":23,"h":234,"v":2.5},{"m":23,"h":240,"v":1.8},{"m":23,"h":246,"v":2.8},{"m":23,"h":252,"v":1.5},{"m":23,"h":258,"v":3},{"m":23,"h":264,"v":1.2},{"m":23,"h":270,"v":0.8},{"m":23,"h":276,"v":1.5},{"m":23,"h":282,"v":2.5},{"m":23,"h":288,"v":1},{"m":23,"h":294,"v":1.8},{"m":23,"h":300,"v":0.8},{"m":23,"h":306,"v":2.2},{"m":23,"h":312,"v":1},{"m":23,"h":318,"v":0.6},{"m":23,"h":324,"v":1.8},{"m":23,"h":330,"v":1.2},{"m":23,"h":336,"v":0.8},{"m":23,"h":342,"v":2.5},{"m":23,"h":348,"v":1},{"m":23,"h":354,"v":1.5},{"m":23,"h":360,"v":2.2},
{"m":24,"h":6,"v":0},{"m":24,"h":132,"v":0},{"m":24,"h":138,"v":0.05},{"m":24,"h":144,"v":0.1},{"m":24,"h":150,"v":0.05},{"m":24,"h":156,"v":0.1},{"m":24,"h":162,"v":0.3},{"m":24,"h":168,"v":0.2},{"m":24,"h":174,"v":0.4},{"m":24,"h":180,"v":0.3},{"m":24,"h":186,"v":0.6},{"m":24,"h":192,"v":1},{"m":24,"h":198,"v":1.8},{"m":24,"h":204,"v":1.2},{"m":24,"h":210,"v":0.8},{"m":24,"h":216,"v":1.2},{"m":24,"h":222,"v":0.8},{"m":24,"h":228,"v":1.5},{"m":24,"h":234,"v":1},{"m":24,"h":240,"v":0.6},{"m":24,"h":246,"v":1},{"m":24,"h":252,"v":0.6},{"m":24,"h":258,"v":0.4},{"m":24,"h":264,"v":0.3},{"m":24,"h":270,"v":0.5},{"m":24,"h":276,"v":0.3},{"m":24,"h":282,"v":0.2},{"m":24,"h":288,"v":0.3},{"m":24,"h":294,"v":0.2},{"m":24,"h":300,"v":0.6},{"m":24,"h":306,"v":1.5},{"m":24,"h":312,"v":0.8},{"m":24,"h":318,"v":0.4},{"m":24,"h":324,"v":0.2},{"m":24,"h":330,"v":0.3},{"m":24,"h":336,"v":0.5},{"m":24,"h":342,"v":0.3},{"m":24,"h":348,"v":0.6},{"m":24,"h":354,"v":0.4},{"m":24,"h":360,"v":0.3},
{"m":25,"h":6,"v":0},{"m":25,"h":162,"v":0},{"m":25,"h":168,"v":0.1},{"m":25,"h":174,"v":0.2},{"m":25,"h":180,"v":0.1},{"m":25,"h":186,"v":0.3},{"m":25,"h":192,"v":0.6},{"m":25,"h":198,"v":1.2},{"m":25,"h":204,"v":2},{"m":25,"h":210,"v":1.5},{"m":25,"h":216,"v":3.5},{"m":25,"h":222,"v":2.2},{"m":25,"h":228,"v":3.2},{"m":25,"h":234,"v":1.5},{"m":25,"h":240,"v":2},{"m":25,"h":246,"v":1},{"m":25,"h":252,"v":2.8},{"m":25,"h":258,"v":1.6},{"m":25,"h":264,"v":1},{"m":25,"h":270,"v":2.4},{"m":25,"h":276,"v":1.2},{"m":25,"h":282,"v":0.8},{"m":25,"h":288,"v":2.2},{"m":25,"h":294,"v":1.5},{"m":25,"h":300,"v":3},{"m":25,"h":306,"v":1},{"m":25,"h":312,"v":0.7},{"m":25,"h":318,"v":1.6},{"m":25,"h":324,"v":0.9},{"m":25,"h":330,"v":2},{"m":25,"h":336,"v":1.1},{"m":25,"h":342,"v":0.7},{"m":25,"h":348,"v":1.8},{"m":25,"h":354,"v":1},{"m":25,"h":360,"v":1.4},
{"m":26,"h":6,"v":0},{"m":26,"h":150,"v":0},{"m":26,"h":156,"v":0.05},{"m":26,"h":162,"v":0.1},{"m":26,"h":168,"v":0.05},{"m":26,"h":174,"v":0.1},{"m":26,"h":180,"v":0.05},{"m":26,"h":186,"v":0.02},{"m":26,"h":192,"v":0.05},{"m":26,"h":198,"v":0.1},{"m":26,"h":204,"v":0.2},{"m":26,"h":210,"v":0.1},{"m":26,"h":216,"v":0.2},{"m":26,"h":222,"v":0.1},{"m":26,"h":228,"v":0.3},{"m":26,"h":234,"v":0.2},{"m":26,"h":240,"v":0.1},{"m":26,"h":246,"v":0.2},{"m":26,"h":252,"v":0.1},{"m":26,"h":258,"v":0.3},{"m":26,"h":264,"v":0.2},{"m":26,"h":270,"v":0.1},{"m":26,"h":276,"v":0.05},{"m":26,"h":282,"v":0.1},{"m":26,"h":288,"v":0.2},{"m":26,"h":294,"v":0.1},{"m":26,"h":300,"v":0.05},{"m":26,"h":306,"v":0.02},{"m":26,"h":312,"v":0.05},{"m":26,"h":318,"v":0.1},{"m":26,"h":324,"v":0.05},{"m":26,"h":330,"v":0.02},{"m":26,"h":336,"v":0.05},{"m":26,"h":342,"v":0.1},{"m":26,"h":348,"v":0.05},{"m":26,"h":354,"v":0.1},{"m":26,"h":360,"v":0.05},
{"m":27,"h":6,"v":0},{"m":27,"h":168,"v":0},{"m":27,"h":174,"v":0.2},{"m":27,"h":180,"v":0.5},{"m":27,"h":186,"v":0.3},{"m":27,"h":192,"v":0.8},{"m":27,"h":198,"v":0.5},{"m":27,"h":204,"v":1},{"m":27,"h":210,"v":2},{"m":27,"h":216,"v":1.2},{"m":27,"h":222,"v":3.8},{"m":27,"h":228,"v":2.5},{"m":27,"h":234,"v":1.5},{"m":27,"h":240,"v":1},{"m":27,"h":246,"v":1.8},{"m":27,"h":252,"v":3.2},{"m":27,"h":258,"v":2},{"m":27,"h":264,"v":1.2},{"m":27,"h":270,"v":0.6},{"m":27,"h":276,"v":1.8},{"m":27,"h":282,"v":3},{"m":27,"h":288,"v":1.5},{"m":27,"h":294,"v":2.2},{"m":27,"h":300,"v":1},{"m":27,"h":306,"v":0.5},{"m":27,"h":312,"v":1.2},{"m":27,"h":318,"v":2},{"m":27,"h":324,"v":1},{"m":27,"h":330,"v":0.6},{"m":27,"h":336,"v":1.4},{"m":27,"h":342,"v":2.2},{"m":27,"h":348,"v":1.2},{"m":27,"h":354,"v":0.8},{"m":27,"h":360,"v":1.5},
{"m":28,"h":6,"v":0},{"m":28,"h":156,"v":0},{"m":28,"h":162,"v":0.05},{"m":28,"h":168,"v":0.3},{"m":28,"h":174,"v":0.6},{"m":28,"h":180,"v":0.4},{"m":28,"h":186,"v":1},{"m":28,"h":192,"v":1.5},{"m":28,"h":198,"v":0.8},{"m":28,"h":204,"v":1.2},{"m":28,"h":210,"v":0.8},{"m":28,"h":216,"v":2.5},{"m":28,"h":222,"v":1.5},{"m":28,"h":228,"v":4},{"m":28,"h":234,"v":2},{"m":28,"h":240,"v":1.2},{"m":28,"h":246,"v":2.2},{"m":28,"h":252,"v":1.2},{"m":28,"h":258,"v":0.8},{"m":28,"h":264,"v":1.6},{"m":28,"h":270,"v":2.8},{"m":28,"h":276,"v":1.5},{"m":28,"h":282,"v":1},{"m":28,"h":288,"v":2.5},{"m":28,"h":294,"v":4.5},{"m":28,"h":300,"v":2},{"m":28,"h":306,"v":1.2},{"m":28,"h":312,"v":0.8},{"m":28,"h":318,"v":1.5},{"m":28,"h":324,"v":0.8},{"m":28,"h":330,"v":1.2},{"m":28,"h":336,"v":2.2},{"m":28,"h":342,"v":1.5},{"m":28,"h":348,"v":2.8},{"m":28,"h":354,"v":1.2},{"m":28,"h":360,"v":0.8}
]
},
"encoding": {
"x": {"field": "h", "type": "quantitative", "scale": {"domain": [5.4, 360], "nice": false, "zero": false},
 "axis": {"title": null, "values": [6,12,18,24,30,36,42,48,54,60,66,72,78,84,90,96,102,108,114,120,126,132,138,144,150,156,162,168,174,180,186,192,198,204,210,216,222,228,234,240,246,252,258,264,270,276,282,288,294,300,306,312,318,324,330,336,342,348,354,360],
  "grid": true, "gridColor": {"condition": {"test": "datum.value % 24 === 0", "value": "#555555"}, "value": "#dcdcdc"}, "gridWidth": {"condition": {"test": "datum.value % 24 === 0", "value": 1.5}, "value": 1},
  "tickSize": 4, "labelPadding": 2, "labelFlush": false, "labelOverlap": false, "labelBound": false,
  "labelExpr": "datum.value % 24 === 12 ? ['Di 23','Wo 24','Do 25','Vr 26','Za 27','Zo 28','Ma 29','Di 30','Wo 31','Do 1','Vr 2','Za 3','Zo 4','Ma 5','Di 6'][floor(datum.value / 24)] : ''"}},
"y": {"field": "v", "type": "quantitative", "scale": {"domain": [0, 12], "nice": false},
 "axis": {"title": null, "values": [0,2,4,6,8,10,12], "grid": true, "gridColor": "#dcdcdc", "tickSize": 5, "labelPadding": 2}}
},
"layer": [
{"data": {"name": "mem"}, "mark": {"type": "line", "color": "#3f9e2a", "opacity": 0.4, "strokeWidth": 1, "clip": true}, "encoding": {"detail": {"field": "m", "type": "nominal"}}},
{"data": {"name": "main"}, "transform": [{"filter": "datum.s === 'gemiddelde'"}], "mark": {"type": "line", "strokeWidth": 3, "strokeDash": [3, 2.5], "clip": true},
 "encoding": {"color": {"field": "s", "type": "nominal", "scale": {"domain": ["Oper.", "Controle", "Leden", "gemiddelde", "mediaan (middelste waarde)"], "range": ["#cc3333", "#3333cc", "#3f9e2a", "#111111", "#ee00ee"]},
  "legend": {"orient": "none", "legendX": -3, "legendY": -13, "direction": "horizontal", "title": null, "symbolType": "stroke", "symbolSize": 289, "labelFont": "Liberation Sans", "labelFontSize": 11, "labelColor": "black", "columnPadding": 22, "gridAlign": "none", "labelOffset": 3, "padding": 0,
   "encode": {"symbols": {"update": {"strokeWidth": {"signal": "datum.value === 'Leden' ? 1 : 3"}, "strokeDash": {"signal": "datum.value === 'gemiddelde' ? [3, 2] : datum.value === 'mediaan (middelste waarde)' ? [7, 4] : [1, 0]"}, "opacity": {"signal": "datum.value === 'Leden' ? 0.4 : 1"}}}}}}}},
{"data": {"name": "main"}, "transform": [{"filter": "datum.s === 'mediaan (middelste waarde)'"}], "mark": {"type": "line", "strokeWidth": 2.5, "strokeDash": [7, 4], "clip": true},
 "encoding": {"color": {"field": "s", "type": "nominal", "scale": {"domain": ["Oper.", "Controle", "Leden", "gemiddelde", "mediaan (middelste waarde)"], "range": ["#cc3333", "#3333cc", "#3f9e2a", "#111111", "#ee00ee"]}}}},
{"data": {"name": "main"}, "transform": [{"filter": "datum.s === 'Controle'"}], "mark": {"type": "line", "strokeWidth": 3, "clip": true},
 "encoding": {"color": {"field": "s", "type": "nominal", "scale": {"domain": ["Oper.", "Controle", "Leden", "gemiddelde", "mediaan (middelste waarde)"], "range": ["#cc3333", "#3333cc", "#3f9e2a", "#111111", "#ee00ee"]}}}},
{"data": {"name": "main"}, "transform": [{"filter": "datum.s === 'Oper.'"}], "mark": {"type": "line", "strokeWidth": 3, "clip": true},
 "encoding": {"color": {"field": "s", "type": "nominal", "scale": {"domain": ["Oper.", "Controle", "Leden", "gemiddelde", "mediaan (middelste waarde)"], "range": ["#cc3333", "#3333cc", "#3f9e2a", "#111111", "#ee00ee"]}}}}
]
}
